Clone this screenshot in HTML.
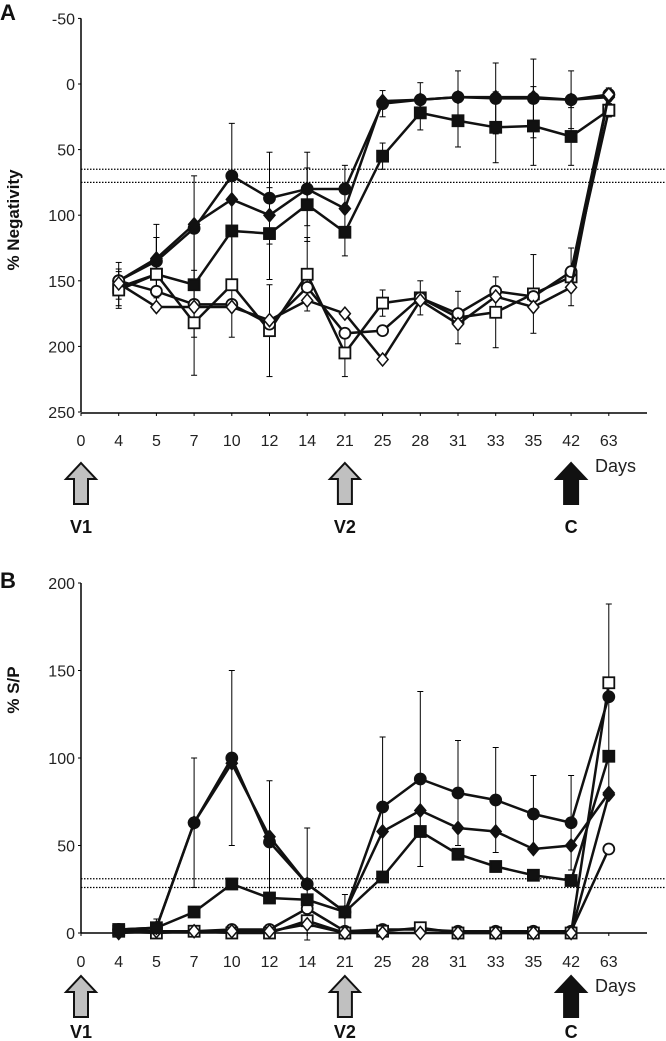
<!DOCTYPE html>
<html><head><meta charset="utf-8"><style>
body{margin:0;background:#fff;}
svg{display:block;font-family:"Liberation Sans",sans-serif;}
</style></head><body>
<svg id="fig" width="666" height="1041" viewBox="0 0 666 1041"></svg>
<script>
const days = ["0","4","5","7","10","12","14","21","25","28","31","33","35","42","63"];
// Panel A (% Negativity), values for days 4..63
const aFilledCircle = [150,135,110,70,87,80,80,15,12,10,11,11,12,8];
const aFilledDiamond = [150,133,107,88,100,80,95,13,12,10,10,10,12,10];
const aFilledSquare = [155,145,153,112,114,92,113,55,22,28,33,32,40,20];
const aOpenSquare = [157,145,182,153,188,145,205,167,163,178,174,160,147,20];
const aOpenCircle = [150,158,168,168,183,155,190,188,163,175,158,162,143,8];
const aOpenDiamond = [152,170,170,170,180,165,175,210,165,183,162,170,155,8];
const aErr = [14,28,40,40,35,28,18,10,13,20,27,30,22,5];
const aTicks = [-50,0,50,100,150,200,250];
const aCutoffs = [65,75];
// Panel B (% S/P)
const bFilledCircle = [2,3,63,100,52,28,12,72,88,80,76,68,63,135];
const bFilledDiamond = [1,3,63,97,55,28,12,58,70,60,58,48,50,80];
const bFilledSquare = [2,3,12,28,20,19,12,32,58,45,38,33,30,101];
const bOpenCircle = [2,1,1,2,2,14,1,2,2,1,1,1,1,48];
const bOpenSquare = [1,0,1,0,0,7,0,1,3,0,0,0,0,143];
const bOpenDiamond = [0,1,1,1,1,5,0,0,0,0,0,0,0,79];
const bErr = [2,5,37,50,35,32,10,40,50,30,30,22,27,53];
const bTicks = [0,50,100,150,200];
const bCutoffs = [31,26];

const NS="http://www.w3.org/2000/svg";
const svg=document.getElementById('fig');
function mk(tag,attrs,parent){const e=document.createElementNS(NS,tag);for(const k in attrs)e.setAttribute(k,attrs[k]);(parent||svg).appendChild(e);return e;}
const xOf=i=>81+37.7*i;

function panel(cfg){
  const g=mk('g',{});
  
  
  const y=cfg.y;
  const ya=mk('line',{x1:81,x2:81,y1:y(cfg.ticks[0]),y2:y(cfg.ticks[cfg.ticks.length-1]),stroke:'#000','stroke-width':1.5},g);
  
  const xa=mk('line',{x1:81,x2:647,y1:cfg.base,y2:cfg.base,stroke:'#000','stroke-width':1.5},g);
  
  cfg.ticks.forEach(t=>{
    mk('line',{x1:78,x2:81,y1:y(t),y2:y(t),stroke:'#000'},g);
    const tx=mk('text',{x:75,y:y(t)+6,'text-anchor':'end','font-size':16,fill:'#222'},g);
    tx.textContent=t;
    
  });
  days.forEach((d,i)=>{
    mk('line',{x1:xOf(i),x2:xOf(i),y1:cfg.base,y2:cfg.base+3,stroke:'#000'},g);
    const tx=mk('text',{x:xOf(i),y:cfg.base+cfg.lblOff,'text-anchor':'middle','font-size':16,fill:'#222'},g);
    tx.textContent=d;
    
  });
  const dl=mk('text',{x:595,y:cfg.daysY,'font-size':18,fill:'#222'},g);dl.textContent='Days';
  
  cfg.cutoffs.forEach(c=>{
    const l=mk('line',{x1:81,x2:666,y1:y(c),y2:y(c),stroke:'#000','stroke-width':1.3,'stroke-dasharray':'1.5,1.5'},g);
    
  });
  cfg.series.forEach(s=>{
    if(!s.err)return;
    s.v.forEach((v,i)=>{
      const x=xOf(i+1);const e=cfg.err[i];
      mk('line',{x1:x,x2:x,y1:y(v-e),y2:y(v+e),stroke:'#000','stroke-width':1},g);
      mk('line',{x1:x-3,x2:x+3,y1:y(v-e),y2:y(v-e),stroke:'#000','stroke-width':1},g);
      mk('line',{x1:x-3,x2:x+3,y1:y(v+e),y2:y(v+e),stroke:'#000','stroke-width':1},g);
    });
  });
  cfg.series.forEach(s=>{
    const pts=s.v.map((v,i)=>xOf(i+1)+','+y(v)).join(' ');
    const pl=mk('polyline',{points:pts,fill:'none',stroke:'#111','stroke-width':2.5},g);
    
    s.v.forEach((v,i)=>{
      const x=xOf(i+1),yy=y(v),f=s.open?'#fff':'#111';let m;
      if(s.shape==='c')m=mk('circle',{cx:x,cy:yy,r:5.5,fill:f,stroke:'#111','stroke-width':1.8},g);
      else if(s.shape==='s')m=mk('rect',{x:x-5.5,y:yy-5.5,width:11,height:11,fill:f,stroke:'#111','stroke-width':1.8},g);
      else m=mk('polygon',{points:`${x},${yy-6.5} ${x+5.5},${yy} ${x},${yy+6.5} ${x-5.5},${yy}`,fill:f,stroke:'#111','stroke-width':1.5},g);
      
    });
  });
  [[0,'V1','#c0c0c0'],[7,'V2','#c0c0c0'],[13,'C','#111']].forEach(a=>{
    const x=xOf(a[0]),t=cfg.arrowTop;
    const p=mk('polygon',{points:`${x},${t} ${x+15},${t+16} ${x+7},${t+16} ${x+7},${t+41} ${x-7},${t+41} ${x-7},${t+16} ${x-15},${t+16}`,fill:a[2],stroke:'#111','stroke-width':2},g);
    
    const tx=mk('text',{x:x,y:cfg.arrowLblY,'text-anchor':'middle','font-size':18,'font-weight':'bold',fill:'#111'},g);
    tx.textContent=a[1];
  });
  const pl=mk('text',{x:0,y:cfg.letterY,'font-size':22,'font-weight':'bold',fill:'#111'},g);pl.textContent=cfg.letter;
  
  const yt=mk('text',{x:0,y:0,'font-size':17,'font-weight':'bold',fill:'#111','text-anchor':'middle',transform:`translate(19,${cfg.titleY}) rotate(-90)`},g);
  yt.textContent=cfg.title;
}

panel({name:'panel-a',letter:'A',letterY:20,title:'% Negativity',titleY:220,
  y:v=>84+v*1.312,base:413,ticks:aTicks,cutoffs:aCutoffs,err:aErr,arrowTop:463,arrowLblY:533,lblOff:33,daysY:472,
  series:[
    {name:'a-filled-circle',v:aFilledCircle,shape:'c',open:false,err:true},
    {name:'a-filled-diamond',v:aFilledDiamond,shape:'d',open:false},
    {name:'a-filled-square',v:aFilledSquare,shape:'s',open:false,err:true},
    {name:'a-open-square',v:aOpenSquare,shape:'s',open:true,err:true},
    {name:'a-open-circle',v:aOpenCircle,shape:'c',open:true},
    {name:'a-open-diamond',v:aOpenDiamond,shape:'d',open:true}
  ]});
panel({name:'panel-b',letter:'B',letterY:588,title:'% S/P',titleY:690,
  y:v=>933-v*1.75,base:933,ticks:bTicks,cutoffs:bCutoffs,err:bErr,arrowTop:976,arrowLblY:1038,lblOff:34,daysY:992,
  series:[
    {name:'b-open-circle',v:bOpenCircle,shape:'c',open:true},
    {name:'b-open-square',v:bOpenSquare,shape:'s',open:true},
    {name:'b-open-diamond',v:bOpenDiamond,shape:'d',open:true},
    {name:'b-filled-circle',v:bFilledCircle,shape:'c',open:false,err:true},
    {name:'b-filled-diamond',v:bFilledDiamond,shape:'d',open:false},
    {name:'b-filled-square',v:bFilledSquare,shape:'s',open:false}
  ]});
</script>
</body></html>
